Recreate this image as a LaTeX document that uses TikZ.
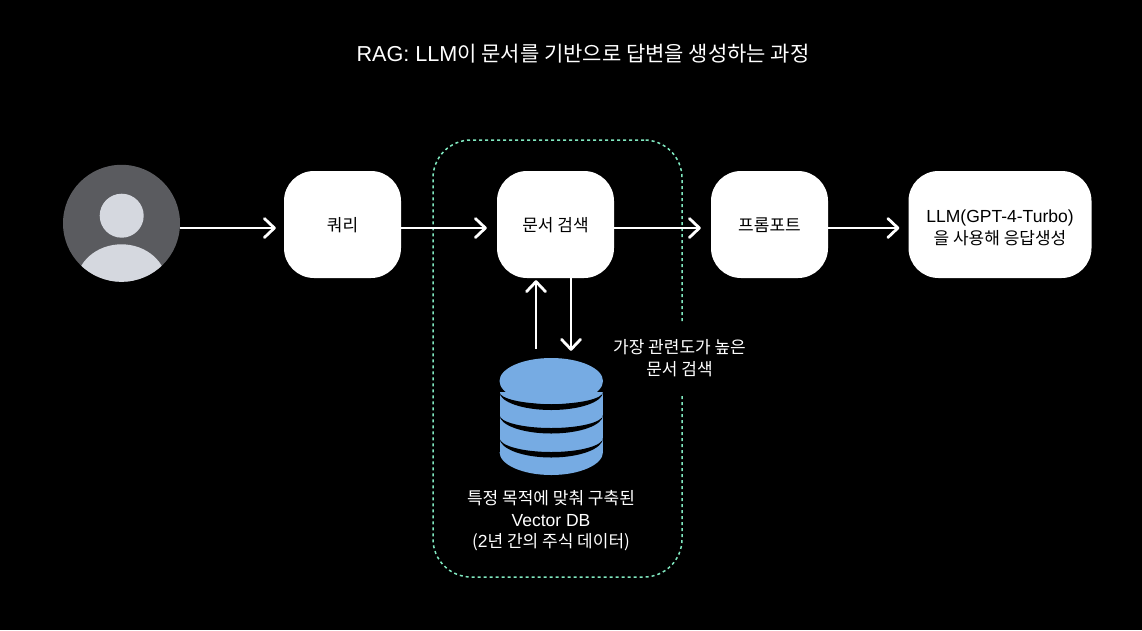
\documentclass[tikz,border=0pt]{standalone}
\usepackage{fontspec}
\setmainfont{Noto Sans CJK KR}
\newfontfamily\latn[Scale=1.03]{Liberation Sans}
\usetikzlibrary{arrows.meta,calc,shapes.geometric}
\definecolor{pagebg}{HTML}{000000}
\definecolor{dbblue}{HTML}{76ABE3}
\definecolor{groupgreen}{HTML}{80E8C0}
\definecolor{avatardark}{HTML}{5A5B5F}
\definecolor{avatarlight}{HTML}{D5D8DF}
% sets centred lines below the node centre without changing the node's size
\newcommand{\lowered}[2]{\raisebox{-#1pt}[0pt][0pt]{\begin{tabular}{@{}c@{}}#2\end{tabular}}}
\tikzset{
  stagebox/.style={fill=white,text=black,rounded corners=30pt,minimum height=107pt,inner sep=0pt,align=center,
    font=\fontsize{17}{21.5}\selectfont},
  flow/.style={draw=white,line width=2.8pt,-{Straight Barb[length=10pt,width=19pt,round]}},
  caption/.style={text=white,align=center,inner sep=0pt,font=\fontsize{17}{21.5}\selectfont},
}
\begin{document}
\begin{tikzpicture}[x=1pt,y=-1pt]
\fill[pagebg] (0,0) rectangle (1142,630);
\useasboundingbox (0,0) rectangle (1142,630);

% title
\node[text=white,inner sep=0pt,font=\fontsize{21}{24}\selectfont] (title) at (583,54) {{\latn RAG: LLM}이 문서를 기반으로 답변을 생성하는 과정};

% dashed group around retrieval
\node[draw=groupgreen,line width=1.5pt,dash pattern=on 3pt off 3pt,rounded corners=38pt,
  minimum width=249pt,minimum height=437pt,inner sep=0pt] (group) at (557.5,358.5) {};

% pipeline stages
\node[stagebox,minimum width=117pt] (query) at (342.5,224.5) {\lowered{7.25}{쿼리}};
\node[stagebox,minimum width=117pt] (search) at (555.5,224.5) {\lowered{7.25}{문서 검색}};
\node[stagebox,minimum width=117pt] (prompt) at (769.5,224.5) {\lowered{7.25}{프롬포트}};
\node[stagebox,minimum width=183pt] (llm) at (1000,224.5) {\lowered{9.25}{{\latn LLM(GPT-4-Turbo)}\\을 사용해 응답생성}};

% user avatar
\node[circle,fill=avatardark,minimum size=117pt,inner sep=0pt] (avatar) at (121.5,223.3) {};
\begin{scope}
  \clip (121.5,223.3) circle[radius=58.5];
  \fill[avatarlight] (121.5,284.3) ellipse[x radius=45.4,y radius=40];
\end{scope}
\fill[avatarlight] (121.7,215.7) circle[radius=22];

% vector database stack: a solid cylinder cut by three tapered dark crescents
\fill[dbblue] (499.5,392) rectangle (603,452);
\fill[dbblue] (499.5,452) arc[start angle=180,end angle=0,x radius=51.75,y radius=23] -- cycle;
\foreach \tip/\low/\up in {392/18/12,415/18.5/13,438/19.5/14}
  \fill[pagebg] (499.5,\tip)
    arc[start angle=180,end angle=0,x radius=51.75,y radius=\low]
    arc[start angle=0,end angle=180,x radius=51.75,y radius=\up] -- cycle;
\node[ellipse,fill=dbblue,minimum width=103.5pt,minimum height=46pt,inner sep=0pt] (db) at (551.25,381) {};

% labels
\node[caption,fill=pagebg,minimum height=71pt,minimum width=140pt] (toplabel) at (679.5,358.5) {\lowered{6.25}{가장 관련도가 높은\\문서 검색}};
\node[caption] (dblabel) at (551,521) {특정 목적에 맞춰 구축된\\{\latn Vector DB}\\({\latn 2}년 간의 주식 데이터)};

% connectors on the main row
\coordinate (row) at (0,228);
\draw[flow,shorten >=8pt] (avatar.east |- row) -- (query.west |- row);
\draw[flow,shorten >=10pt] (query.east |- row) -- (search.west |- row);
\draw[flow,shorten >=10pt] (search.east |- row) -- (prompt.west |- row);
\draw[flow,shorten >=9pt] (prompt.east |- row) -- (llm.west |- row);

% connectors between search and database
\coordinate (upx) at (536,0);
\coordinate (downx) at (571,0);
\coordinate (upstart) at ($(upx |- db.north)+(0,-9)$);
\draw[flow,shorten >=2pt] (upstart) -- (upx |- search.south);
\draw[flow,shorten >=7pt] (downx |- search.south) -- (downx |- db.north);
\end{tikzpicture}
\end{document}
